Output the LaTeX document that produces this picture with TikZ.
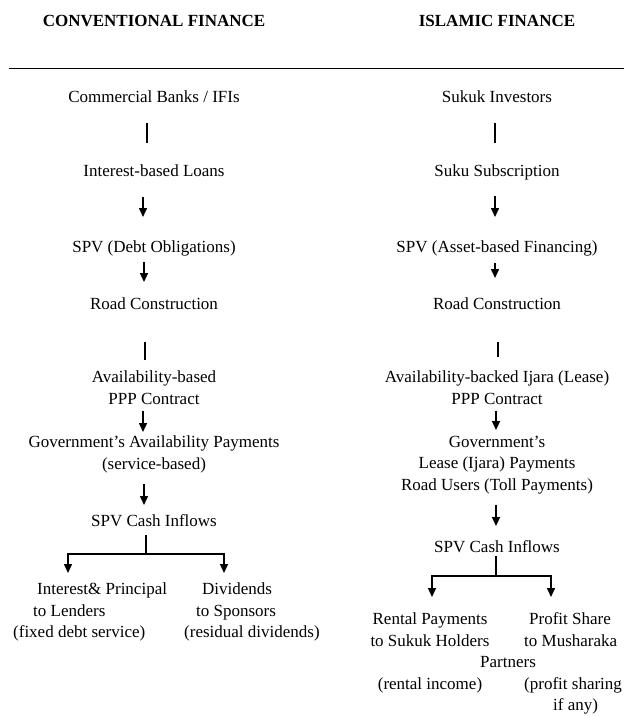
\documentclass[tikz,border=0pt]{standalone}
\usepackage{fontspec}
\setmainfont{Liberation Serif}
\usetikzlibrary{arrows.meta}

\tikzset{
    txt/.style={inner sep=0pt, font=\fontsize{17}{21.5}\selectfont,
        execute at begin node=\strut, execute at end node=\strut},
    conn/.style={line width=1.5pt},
    arr/.style={line width=1.5pt, -{Triangle[length=9pt,width=8pt]}},
}

\begin{document}
\begin{tikzpicture}[x=1pt, y=-1pt]
    \useasboundingbox (0,0) rectangle (624,717);

    % headings
    \node[txt, font=\fontsize{17}{21.5}\selectfont\bfseries, anchor=north] (headL) at (154,11.5) {CONVENTIONAL FINANCE};
    \node[txt, font=\fontsize{17}{21.5}\selectfont\bfseries, anchor=north] (headR) at (497,11.5) {ISLAMIC FINANCE};
    \draw[line width=0.8pt] (9,68) -- (624,68);

    % conventional column
    \node[txt, anchor=north] (banks) at (154,87.5) {Commercial Banks / IFIs};
    \node[txt, anchor=north] (loans) at (154,161.5) {Interest-based Loans};
    \node[txt, anchor=north] (spvL) at (154,237.5) {SPV (Debt Obligations)};
    \node[txt, anchor=north] (roadL) at (154,294.5) {Road Construction};
    \node[txt, anchor=north, align=center] (pppL) at (154,370.5) {Availability-based\\PPP Contract};
    \node[txt, anchor=north, align=center] (govL) at (154,435.5) {Government's Availability Payments\\(service-based)};
    \node[txt, anchor=north] (cashL) at (154,511.5) {SPV Cash Inflows};
    \node[txt, anchor=north west, align=left] (lenders) at (13,582.5) {\hspace*{24pt}Interest\& Principal\\\hspace*{20pt}to Lenders\\(fixed debt service)};
    \node[txt, anchor=north west, align=left] (sponsors) at (184,582.5) {\hspace*{18pt}Dividends\\\hspace*{12pt}to Sponsors\\(residual dividends)};

    \draw[conn, shorten <=14pt, shorten >=18.5pt] ([xshift=-7pt]banks.south) -- ([xshift=-7pt]loans.north);
    \draw[arr, shorten <=14pt, shorten >=20.5pt] ([xshift=-11pt]loans.south) -- ([xshift=-11pt]spvL.north);
    \draw[arr, shorten <=3pt, shorten >=12.5pt] ([xshift=-10pt]spvL.south) -- ([xshift=-10pt]roadL.north);
    \draw[conn, shorten <=26pt, shorten >=10.5pt] ([xshift=-9pt]roadL.south) -- ([xshift=-9pt]pppL.north);
    \draw[arr, shorten >=3.5pt] ([xshift=-11pt]pppL.south) -- ([xshift=-11pt]govL.north);
    \draw[arr, shorten <=8.5pt, shorten >=6.5pt] ([xshift=-10pt]govL.south) -- ([xshift=-10pt]cashL.north);

    \coordinate (forkL) at (146,554);
    \draw[conn, shorten <=2pt] ([xshift=-8pt]cashL.south) -- (forkL);
    \draw[arr, shorten >=9.5pt] (forkL) -| ([xshift=55pt]lenders.north west);
    \draw[arr, shorten >=9.5pt] (forkL) -| ([xshift=40pt]sponsors.north west);

    % islamic column
    \node[txt, anchor=north] (investors) at (497,87.5) {Sukuk Investors};
    \node[txt, anchor=north] (subscr) at (497,161.5) {Suku Subscription};
    \node[txt, anchor=north] (spvR) at (497,237.5) {SPV (Asset-based Financing)};
    \node[txt, anchor=north] (roadR) at (497,294.5) {Road Construction};
    \node[txt, anchor=north, align=center] (pppR) at (497,370.5) {Availability-backed Ijara (Lease)\\PPP Contract};
    \node[txt, anchor=north, align=center] (govR) at (497,435.5) {Government's\\Lease (Ijara) Payments\\Road Users (Toll Payments)};
    \node[txt, anchor=north] (cashR) at (497,537.5) {SPV Cash Inflows};
    \node[txt, anchor=north, align=center] (rental) at (430,612.5) {Rental Payments\\to Sukuk Holders\\\strut\\(rental income)};
    \node[txt, anchor=north west, align=left] (profit) at (524,612.5) {\hspace*{5pt}Profit Share\\to Musharaka\\\hspace*{-44pt}Partners\\(profit sharing\\\hspace*{29pt}if any)};

    \draw[conn, shorten <=14pt, shorten >=18.5pt] ([xshift=-2pt]investors.south) -- ([xshift=-2pt]subscr.north);
    \draw[arr, shorten <=13pt, shorten >=20.5pt] ([xshift=-2pt]subscr.south) -- ([xshift=-2pt]spvR.north);
    \draw[arr, shorten <=4pt, shorten >=16.5pt] ([xshift=-2pt]spvR.south) -- ([xshift=-2pt]roadR.north);
    \draw[conn, shorten <=26pt, shorten >=13.5pt] ([xshift=1pt]roadR.south) -- ([xshift=1pt]pppR.north);
    \draw[arr, shorten >=5.5pt] ([xshift=-1pt]pppR.south) -- ([xshift=-1pt]govR.north);
    \draw[arr, shorten <=8pt, shorten >=11.5pt] ([xshift=-1pt]govR.south) -- ([xshift=-1pt]cashR.north);

    \coordinate (forkR) at (496,576);
    \draw[conn, shorten <=-3pt] ([xshift=-1pt]cashR.south) -- (forkR);
    \draw[arr, shorten >=15.5pt] (forkR) -| ([xshift=2pt]rental.north);
    \draw[arr, shorten >=15.5pt] (forkR) -| ([xshift=27pt]profit.north west);

\end{tikzpicture}
\end{document}
